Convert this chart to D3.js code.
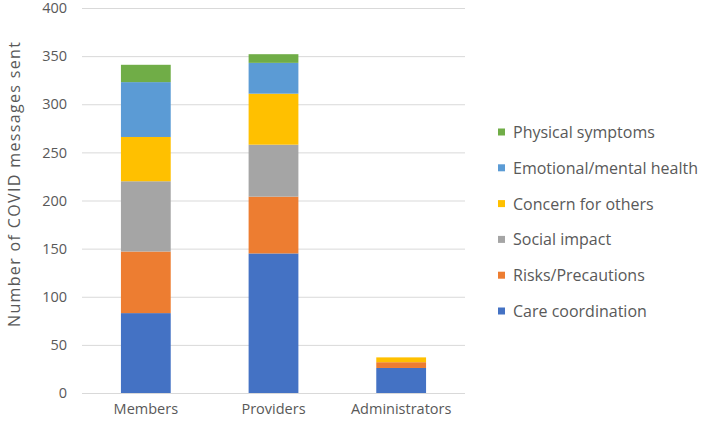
<!DOCTYPE html>
<html>
<head>
<meta charset="utf-8">
<script src="https://cdn.jsdelivr.net/npm/d3@7"></script>
<style>
  body { margin: 0; background: #fff; }
  text { font-family: "Open Sans", "Noto Sans", sans-serif; fill: #595959; }
</style>
</head>
<body>
<svg id="chart" width="708" height="421"></svg>
<script>
const categories = ["Members", "Providers", "Administrators"];
const seriesNames = ["Care coordination", "Risks/Precautions", "Social impact", "Concern for others", "Emotional/mental health", "Physical symptoms"];
const careCoordination = [83, 145, 26];
const risksPrecautions = [64, 59, 6];
const socialImpact = [73, 54, 0];
const concernForOthers = [46, 53, 5];
const emotionalMentalHealth = [57, 32, 0];
const physicalSymptoms = [18, 9, 0];
const yTicks = [0, 50, 100, 150, 200, 250, 300, 350, 400];
const colors = ["#4472C4", "#ED7D31", "#A5A5A5", "#FFC000", "#5B9BD5", "#70AD47"];

const seriesValues = [careCoordination, risksPrecautions, socialImpact, concernForOthers, emotionalMentalHealth, physicalSymptoms];
const rows = categories.map((c, i) => {
  const r = { category: c };
  seriesNames.forEach((s, j) => r[s] = seriesValues[j][i]);
  return r;
});

const svg = d3.select("#chart");
const mLeft = 82, mRight = 465, mTop = 8, mBottom = 393;

const x = d3.scaleBand().domain(categories).range([mLeft, mRight]).paddingInner(0.61).paddingOuter(0.305);
const y = d3.scaleLinear().domain([0, 400]).range([mBottom, mTop]);

// gridlines
svg.append("g").selectAll("line").data(yTicks).join("line")
  .attr("x1", mLeft).attr("x2", mRight)
  .attr("y1", d => y(d) + 0.5).attr("y2", d => y(d) + 0.5)
  .attr("stroke", "#d9d9d9").attr("stroke-width", 1);

// y axis labels
const yAxis = d3.axisLeft(y).tickValues(yTicks).tickSize(0).tickPadding(15);
const gy = svg.append("g").attr("transform", `translate(${mLeft},0)`).call(yAxis);
gy.select(".domain").remove();
gy.selectAll("text").style("font-size", "14.5px").attr("fill", "#595959")
  .style("font-family", "'Open Sans', sans-serif");

// x axis labels
const xAxis = d3.axisBottom(x).tickSize(0).tickPadding(11);
const gx = svg.append("g").attr("transform", `translate(0,${mBottom})`).call(xAxis);
gx.select(".domain").remove();
gx.selectAll("text").style("font-size", "14.5px").attr("fill", "#595959")
  .style("font-family", "'Open Sans', sans-serif");

// stacked bars
const stack = d3.stack().keys(seriesNames);
const stacked = stack(rows);
svg.append("g").selectAll("g").data(stacked).join("g")
  .attr("fill", (d, i) => colors[i])
  .selectAll("rect").data(d => d).join("rect")
  .attr("x", d => x(d.data.category))
  .attr("width", x.bandwidth())
  .attr("y", d => y(d[1]))
  .attr("height", d => Math.max(0, y(d[0]) - y(d[1])));

// y axis title
svg.append("text")
  .attr("transform", `translate(14,${(42 + 327) / 2}) rotate(-90)`)
  .attr("text-anchor", "middle")
  .attr("dominant-baseline", "central")
  .attr("textLength", 285)
  .attr("lengthAdjust", "spacing")
  .style("font-size", "16px")
  .text("Number of COVID messages sent");

// legend (reverse order)
const legendOrder = seriesNames.map((s, i) => ({ name: s, color: colors[i] })).reverse();
const lg = svg.append("g");
const items = lg.selectAll("g").data(legendOrder).join("g")
  .attr("transform", (d, i) => `translate(498,${132 + i * 35.8})`);
items.append("rect").attr("x", 0).attr("y", -3.5).attr("width", 7).attr("height", 7).attr("fill", d => d.color);
items.append("text").attr("x", 15).attr("y", 0).attr("dominant-baseline", "central")
  .style("font-size", "16px").text(d => d.name);
</script>
</body>
</html>
